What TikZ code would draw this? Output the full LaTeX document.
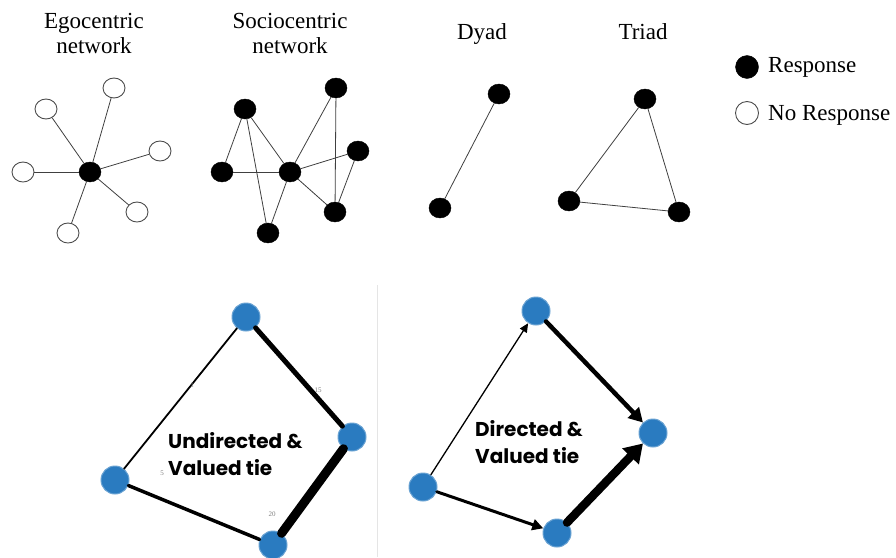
\documentclass[tikz,border=0pt]{standalone}
\usepackage{fontspec}
\setmainfont{Liberation Serif}
\newfontfamily\geo{Poppins}
\usetikzlibrary{shapes.geometric,arrows.meta}
\definecolor{nodeblue}{HTML}{2A7BC0}
\begin{document}
\begin{tikzpicture}[x=1pt,y=-1pt,
  blk/.style={ellipse, fill=black, draw=black, minimum width=22pt, minimum height=20pt, inner sep=0pt},
  wht/.style={ellipse, fill=white, draw=black!70, line width=0.9pt, minimum width=22pt, minimum height=20pt, inner sep=0pt},
  tie/.style={draw=black!75, line width=0.8pt},
  bnode/.style={circle, fill=nodeblue, draw=nodeblue!70, line width=1pt, minimum size=28pt, inner sep=0pt},
  ttl/.style={font=\fontsize{23}{25}\selectfont, align=center, inner sep=0pt},
  lgd/.style={font=\fontsize{23}{25}\selectfont, inner sep=0pt, anchor=base west},
  big/.style={font=\geo\bfseries\fontsize{20}{27}\selectfont, align=left, inner sep=0pt},
  elab/.style={font=\fontsize{7}{7}\selectfont, text=black!50, inner sep=0pt},
  vt/.style={draw=black, line cap=round}
]
\useasboundingbox (0,0) rectangle (896,557);
\fill[white] (0,0) rectangle (896,557);

% titles
\node[ttl, anchor=north] (t1) at (94,13) {Egocentric\\network};
\node[ttl, anchor=north] (t2) at (290,13) {Sociocentric\\network};
\node[ttl, anchor=base] (t3) at (482,39) {Dyad};
\node[ttl, anchor=base] (t4) at (643,39) {Triad};

% egocentric
\node[blk] (e0) at (90,172) {};
\node[wht] (e1) at (114,88) {};
\node[wht] (e2) at (46,109) {};
\node[wht] (e3) at (160,151) {};
\node[wht] (e4) at (23,172) {};
\node[wht] (e5) at (137,212) {};
\node[wht] (e6) at (68,233) {};
\foreach \n in {e1,e2,e3,e4,e5,e6} \draw[tie] (e0) -- (\n);

% sociocentric
\node[blk] (sa) at (245,109) {};
\node[blk] (sb) at (336,88) {};
\node[blk] (sc) at (222,172) {};
\node[blk] (sd) at (290,172) {};
\node[blk] (se) at (358,151) {};
\node[blk] (sf) at (335,212) {};
\node[blk] (sg) at (268,233) {};
\draw[tie] (sa) -- (sc);
\draw[tie] (sa) -- (sg);
\draw[tie] (sa) -- (sd);
\draw[tie] (sc) -- (sd);
\draw[tie] (sd) -- (sg);
\draw[tie] (sd) -- (sb);
\draw[tie] (sd) -- (se);
\draw[tie] (sd) -- (sf);
\draw[tie] (sb) -- (sf);
\draw[tie] (se) -- (sf);

% dyad
\node[blk] (d1) at (499,94) {};
\node[blk] (d2) at (440,208) {};
\draw[tie] (d1) -- (d2);

% triad
\node[blk] (r1) at (645,99) {};
\node[blk] (r2) at (569,201) {};
\node[blk] (r3) at (679,212) {};
\draw[tie] (r1) -- (r2);
\draw[tie] (r1) -- (r3);
\draw[tie] (r2) -- (r3);

% legend
\node[blk, minimum width=23pt, minimum height=23pt] (l1) at (747,67) {};
\node[wht, minimum width=23pt, minimum height=23pt] (l2) at (747,113) {};
\node[lgd] (l1t) at (768,72) {Response};
\node[lgd] (l2t) at (768,120) {No Response};

% faint separator
\draw[black!10, line width=1pt] (377,285) -- (377,557);

% undirected & valued
\node[bnode] (ua) at (246,317) {};
\node[bnode] (ub) at (352,437) {};
\node[bnode] (uc) at (115,480) {};
\node[bnode] (ud) at (273,545) {};
\draw[vt, line width=1.8pt] (ua) -- (uc);
\draw[vt, line width=5pt] (ua) -- (ub);
\draw[vt, line width=3.5pt] (uc) -- (ud);
\draw[vt, line width=9pt] (ub) -- (ud);
\node[elab] (u1) at (192,385) {1};
\node[elab] (u2) at (318,390) {15};
\node[elab] (u3) at (162,473) {5};
\node[elab] (u4) at (272,514) {20};
\node[big, anchor=base west] (utxt) at (168,475) {Undirected \&\\Valued tie};

% directed & valued
\node[bnode] (da) at (536,311) {};
\node[bnode] (db) at (653,433) {};
\node[bnode] (dc) at (423,487) {};
\node[bnode] (dd) at (557,533) {};
\draw[vt, line width=1.3pt, -{Triangle[length=9pt,width=8pt]}] (dc) -- (da);
\draw[vt, line width=4.5pt, -{Triangle[length=14pt,width=15pt]}] (da) -- (db);
\draw[vt, line width=3pt, -{Triangle[length=11pt,width=11pt]}] (dc) -- (dd);
\draw[vt, line width=8.5pt, -{Triangle[length=18pt,width=22pt]}] (dd) -- (db);
\node[big, anchor=base west] (dtxt) at (475,463) {Directed \&\\Valued tie};
\end{tikzpicture}
\end{document}
